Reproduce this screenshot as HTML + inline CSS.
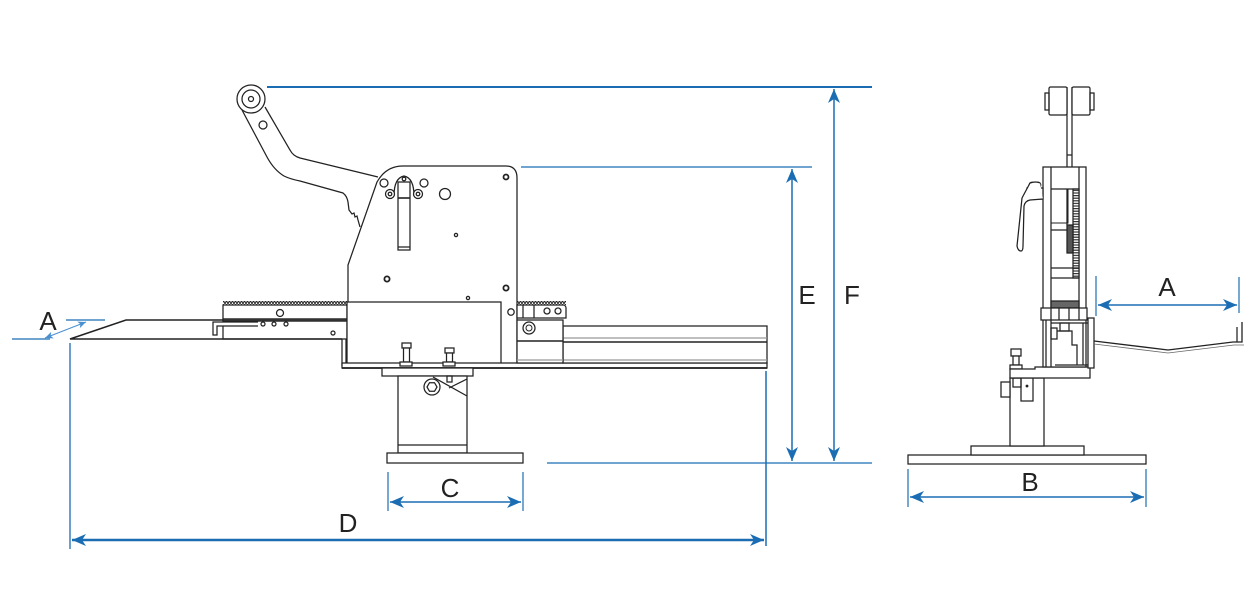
<!DOCTYPE html>
<html><head><meta charset="utf-8"><style>
html,body{margin:0;padding:0;background:#fff;}
svg{display:block;}
text{font-family:"Liberation Sans",Arial,sans-serif;font-size:26px;fill:#222;text-anchor:middle;}
</style></head><body>
<svg width="1256" height="592" viewBox="0 0 1256 592" xmlns="http://www.w3.org/2000/svg">
<defs>
<marker id="ah" viewBox="-15 -7 16 14" refX="0" refY="0" markerWidth="16" markerHeight="14" markerUnits="userSpaceOnUse" orient="auto-start-reverse">
<path d="M0,0 L-14,-6 L-10,0 L-14,6 Z" fill="#1b6db3"/>
</marker>
<marker id="ah2" viewBox="-9 -4 10 8" refX="0" refY="0" markerWidth="10" markerHeight="8" markerUnits="userSpaceOnUse" orient="auto-start-reverse">
<path d="M0,0 L-8,-3.5 L-6,0 L-8,3.5 Z" fill="#4a90d0"/>
</marker>
<pattern id="teeth" x="0" y="0" width="3" height="4" patternUnits="userSpaceOnUse">
<path d="M0,4 L1.5,0.5 L3,4" fill="none" stroke="#222" stroke-width="1"/>
</pattern>
<pattern id="gear" x="0" y="0" width="6" height="2.6" patternUnits="userSpaceOnUse">
<rect width="6" height="2.6" fill="#fff"/>
<rect width="6" height="1.2" fill="#333"/>
</pattern>
</defs>

<!-- ============ DIMENSIONS ============ -->
<g stroke="#1b6db3" fill="none">
<line x1="267" y1="87" x2="872" y2="87" stroke-width="2"/>
<line x1="521" y1="167" x2="812" y2="167" stroke-width="1.3"/>
<line x1="547" y1="463" x2="872" y2="463" stroke-width="1.3"/>
<line x1="792" y1="169" x2="792" y2="461" stroke-width="1.5" marker-start="url(#ah)" marker-end="url(#ah)"/>
<line x1="834" y1="89" x2="834" y2="461" stroke-width="1.5" marker-start="url(#ah)" marker-end="url(#ah)"/>
<line x1="70" y1="343" x2="70" y2="549" stroke-width="1.3"/>
<line x1="766" y1="371" x2="766" y2="546" stroke-width="1.5"/>
<line x1="72" y1="540" x2="764" y2="540" stroke-width="2.5" marker-start="url(#ah)" marker-end="url(#ah)"/>
<line x1="388" y1="472" x2="388" y2="511" stroke-width="1.2"/>
<line x1="523" y1="472" x2="523" y2="511" stroke-width="1.2"/>
<line x1="390" y1="502" x2="521" y2="502" stroke-width="1.5" marker-start="url(#ah)" marker-end="url(#ah)"/>
<line x1="908" y1="469" x2="908" y2="507" stroke-width="1.2"/>
<line x1="1146" y1="469" x2="1146" y2="507" stroke-width="1.2"/>
<line x1="910" y1="497" x2="1144" y2="497" stroke-width="1.5" marker-start="url(#ah)" marker-end="url(#ah)"/>
<line x1="1096" y1="276" x2="1096" y2="316" stroke-width="1.2"/>
<line x1="1239" y1="277" x2="1239" y2="313" stroke-width="1.2"/>
<line x1="1098" y1="305" x2="1237" y2="305" stroke-width="1.5" marker-start="url(#ah)" marker-end="url(#ah)"/>
<line x1="12" y1="339" x2="50" y2="339" stroke-width="1.2"/>
<line x1="66" y1="320" x2="105" y2="320" stroke-width="1.2"/>
<line x1="45" y1="338" x2="86" y2="322" stroke="#4a90d0" stroke-width="1" marker-start="url(#ah2)" marker-end="url(#ah2)"/>
</g>
<text x="48" y="330">A</text>
<text x="807" y="304">E</text>
<text x="852" y="304">F</text>
<text x="1167" y="296">A</text>
<text x="1030" y="491">B</text>
<text x="450" y="497">C</text>
<text x="348" y="532">D</text>

<!-- ============ SIDE VIEW ============ -->
<g stroke="#222" stroke-width="1.25" fill="none">
<!-- sheet -->
<path d="M223,320 L126,320 L70,339 L342,339" stroke-width="1.5"/>
<!-- left rail -->
<rect x="223" y="301" width="124" height="4" fill="url(#teeth)" stroke="none"/>
<rect x="223" y="305" width="124" height="14"/>
<rect x="223" y="319" width="124" height="2" fill="#555"/>
<rect x="223" y="321" width="124" height="18"/>
<path d="M258,322 L213,322 L213,335 L217,335 L217,326 L258,326" fill="#fff"/>
<circle cx="280" cy="313" r="3.5"/>
<circle cx="263" cy="324" r="2"/>
<circle cx="274" cy="324" r="2"/>
<circle cx="286" cy="324" r="2"/>
<circle cx="333" cy="333" r="2"/>
<line x1="342" y1="339" x2="342" y2="366"/>
<line x1="346" y1="339" x2="346" y2="364"/>

<!-- handle arm -->
<path d="M242,110 L267,157 Q274,170 284,176 Q290,179 300,181 L343,193 Q347,196 348,202 L349,210 L352,214 L354,213 L355,217 L357,216 L358,220 L360,227"/>
<path d="M265,107 L290,150 Q293,156 300,158 L378,177"/>
<circle cx="251" cy="99" r="14" fill="#fff"/>
<circle cx="251" cy="99" r="9"/>
<circle cx="251" cy="99" r="2.5"/>
<circle cx="263" cy="125" r="4"/>

<!-- main plate -->
<path d="M348,302 L348,265 L377,182 Q386,166 403,166 L506,166 Q517,166 517,178 L517,366" fill="#fff"/>
<circle cx="506" cy="177" r="2.5" stroke-width="1.8"/>
<circle cx="384" cy="183" r="4"/>
<circle cx="424" cy="183" r="4"/>
<circle cx="445" cy="194" r="5.5"/>
<path d="M394,196 Q394,178 404,176 Q414,178 414,196"/>
<circle cx="404" cy="179" r="1.8"/>
<circle cx="390" cy="194" r="4.5" fill="#fff"/>
<circle cx="390" cy="194" r="1.8"/>
<circle cx="418" cy="194" r="4.5" fill="#fff"/>
<circle cx="418" cy="194" r="1.8"/>
<rect x="398" y="182" width="12" height="68" fill="#fff"/>
<line x1="398" y1="198" x2="410" y2="198" stroke-width="1.6"/>
<line x1="398" y1="247" x2="410" y2="247"/>
<circle cx="456" cy="235" r="1.6"/>
<circle cx="387" cy="279" r="2.6" stroke-width="1.8"/>
<circle cx="506" cy="288" r="2.6" stroke-width="1.8"/>
<circle cx="468" cy="298" r="1.6"/>
<circle cx="511" cy="312" r="3.2"/>

<!-- front box -->
<rect x="347" y="302" width="154" height="62" fill="#fff"/>
<!-- base plate -->
<rect x="342" y="363" width="425" height="5" fill="#fff"/>
<line x1="342" y1="368" x2="767" y2="368" stroke-width="1.8"/>

<!-- right rail -->
<rect x="517" y="301" width="49" height="4" fill="url(#teeth)" stroke="none"/>
<path d="M517,305 L564,305 Q566,306 566,308 L566,318 L517,318 Z" fill="#fff"/>
<line x1="523" y1="305" x2="523" y2="318"/>
<line x1="534" y1="305" x2="534" y2="318"/>
<circle cx="547" cy="311" r="3"/>
<circle cx="558" cy="311" r="3"/>
<rect x="563" y="326" width="204" height="37" fill="#fff"/>
<line x1="563" y1="338" x2="767" y2="338" stroke="#999"/>
<line x1="563" y1="342" x2="767" y2="342" stroke-width="1.4"/>
<line x1="563" y1="360" x2="767" y2="360" stroke="#999"/>
<rect x="517" y="320" width="46" height="43" fill="#fff"/>
<line x1="517" y1="341" x2="563" y2="341" stroke-width="1.4"/>
<line x1="517" y1="360" x2="563" y2="360" stroke="#999"/>
<circle cx="529" cy="328" r="6"/>
<circle cx="529" cy="328" r="3" stroke-width="1"/>

<!-- column -->
<rect x="382" y="368" width="91" height="8" fill="#fff"/>
<rect x="398" y="376" width="69" height="77" fill="#fff"/>
<line x1="398" y1="445" x2="467" y2="445"/>
<rect x="387" y="453" width="136" height="10" fill="#fff"/>
<path d="M433,377 L467,396 M467,379 L449,388"/>
<circle cx="432" cy="387" r="8"/>
<polygon points="437,387 434.5,391.3 429.5,391.3 427,387 429.5,382.7 434.5,382.7"/>
<rect x="447" y="376" width="5" height="6"/>
<!-- bolts -->
<rect x="402" y="343" width="9" height="5" fill="#fff"/>
<rect x="403.5" y="348" width="6" height="14" fill="#fff"/>
<rect x="400" y="362" width="12" height="4" fill="#fff"/>
<rect x="445" y="348" width="9" height="5" fill="#fff"/>
<rect x="446.5" y="353" width="6" height="9" fill="#fff"/>
<rect x="443" y="362" width="12" height="4" fill="#fff"/>
</g>

<!-- ============ FRONT VIEW ============ -->
<g stroke="#222" stroke-width="1.25" fill="none">
<rect x="908" y="455" width="238" height="9" fill="#fff"/>
<rect x="971" y="446" width="113" height="9" fill="#fff"/>
<rect x="1010" y="378" width="34" height="68" fill="#fff"/>
<rect x="1001" y="382" width="9" height="15" fill="#fff"/>
<rect x="1021" y="378" width="12" height="23" fill="#fff"/>
<circle cx="1027" cy="386" r="0.8" fill="#333"/>
<rect x="1013" y="378" width="8" height="9"/>
<!-- bolt -->
<rect x="1011" y="349" width="10" height="7" fill="#fff"/>
<rect x="1013" y="356" width="6" height="9" fill="#fff"/>
<rect x="1010" y="365" width="12" height="4" fill="#fff"/>
<!-- bracket -->
<path d="M1010,378 L1010,369 L1035,369 L1035,367 L1090,367 L1090,378 Z" fill="#fff"/>

<!-- roller -->
<line x1="1067" y1="87" x2="1067" y2="167"/>
<line x1="1072" y1="87" x2="1072" y2="167"/>
<line x1="1067" y1="155" x2="1072" y2="155"/>
<rect x="1049" y="87" width="18" height="28" rx="1.5" fill="#fff"/>
<rect x="1072" y="87" width="18" height="28" rx="1.5" fill="#fff"/>
<rect x="1045" y="93" width="4" height="17"/>
<rect x="1090" y="93" width="4" height="17"/>

<!-- frame -->
<rect x="1043" y="167" width="43" height="200" fill="#fff"/>
<line x1="1051" y1="167" x2="1051" y2="367"/>
<line x1="1079" y1="167" x2="1079" y2="308"/>
<line x1="1051" y1="189" x2="1079" y2="189"/>
<rect x="1051" y="189" width="17" height="34" stroke-width="1"/>
<line x1="1067" y1="189" x2="1067" y2="225"/>
<rect x="1073" y="189" width="6" height="89" fill="url(#gear)"/>
<rect x="1067" y="225" width="6" height="28" fill="#555"/>
<line x1="1051" y1="230" x2="1067" y2="230"/>
<line x1="1051" y1="268" x2="1079" y2="268"/>
<line x1="1051" y1="278" x2="1079" y2="278"/>
<rect x="1051" y="301" width="28" height="7" fill="#666"/>
<!-- block row -->
<rect x="1041" y="308" width="46" height="12" fill="#fff"/>
<line x1="1051" y1="308" x2="1051" y2="320"/>
<line x1="1059" y1="308" x2="1059" y2="320"/>
<line x1="1069" y1="308" x2="1069" y2="320"/>
<line x1="1079" y1="308" x2="1079" y2="320"/>
<!-- lower internals -->
<line x1="1046" y1="320" x2="1046" y2="367"/>
<line x1="1051" y1="323" x2="1088" y2="323"/>
<rect x="1060" y="323" width="9" height="8"/>
<rect x="1051" y="328" width="6" height="11"/>
<path d="M1057,331 L1072,331 L1072,345 L1077,345 L1077,365"/>
<line x1="1083" y1="323" x2="1083" y2="365"/>
<line x1="1055" y1="365" x2="1088" y2="365"/>
<rect x="1088" y="318" width="6" height="50" fill="#fff"/>

<!-- handle -->
<rect x="1027" y="188" width="16" height="11" fill="#fff"/>
<circle cx="1037" cy="193" r="3"/>
<circle cx="1032" cy="185" r="2.8"/>
<circle cx="1038" cy="185" r="2.8"/>
<path d="M1040,183 Q1036,181 1030,183 L1022,198 L1017,246 Q1018,251 1021,251 Q1023,251 1023,246 L1024,206 Q1025,201 1030,200 L1043,199" fill="#fff"/>

<!-- tray -->
<path d="M1094,341 L1168,350 L1233,342 L1242,342 L1242,322" stroke-width="1.3"/>
<path d="M1094,344 L1168,353 L1234,345 L1244,345" stroke-width="0.8" stroke="#666"/>
<line x1="1237" y1="327" x2="1237" y2="342"/>
</g>
</svg>
</body></html>
